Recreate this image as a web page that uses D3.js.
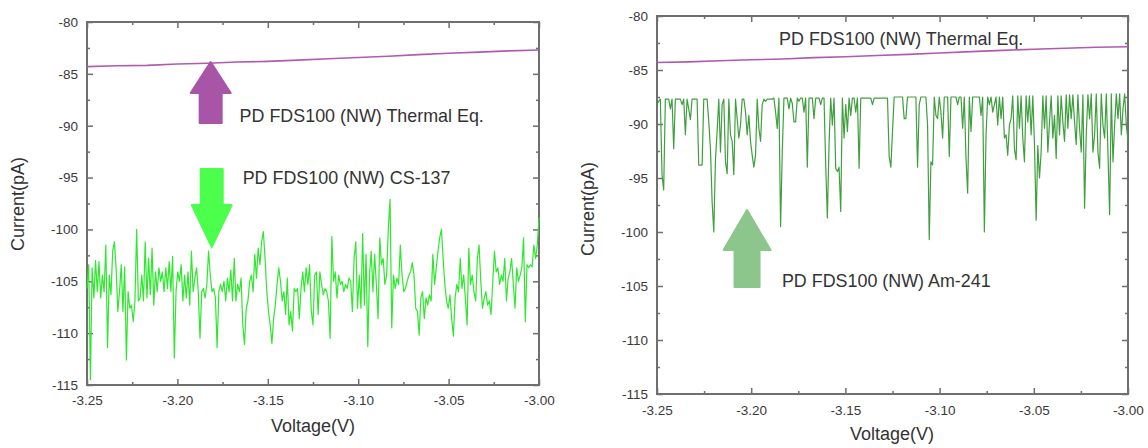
<!DOCTYPE html>
<html><head><meta charset="utf-8">
<script src="https://cdn.jsdelivr.net/npm/d3@7"></script>
<style>
body{margin:0;background:#fff}
svg{display:block}
text{font-family:"Liberation Sans",Arial,sans-serif}
</style>
</head><body>
<svg id="chart" width="1148" height="448"></svg>
<script>
// ---------------- data ----------------
const xDomain = [-3.25, -3.00];
const yDomain = [-115, -80];
const xTicks = [-3.25, -3.20, -3.15, -3.10, -3.05, -3.00];
const xMinor = [-3.225, -3.175, -3.125, -3.075, -3.025];
const yTicks = [-80, -85, -90, -95, -100, -105, -110, -115];
const yMinor = [-82.5, -87.5, -92.5, -97.5, -102.5, -107.5, -112.5];

const xTitle = "Voltage(V)";
const yTitle = "Current(pA)";

// Thermal equilibrium trace (left panel)
const thermalLeft = [-84.3, -84.22, -84.18, -84.05, -83.98, -83.86, -83.8, -83.68, -83.55, -83.43, -83.3, -83.15, -83.02, -82.9, -82.78, -82.7];
// Thermal equilibrium trace (right panel)
const thermalRight = [-84.3, -84.25, -84.15, -84.05, -83.98, -83.85, -83.77, -83.66, -83.55, -83.42, -83.3, -83.18, -83.08, -82.98, -82.9, -82.85];

// CS-137 trace (left panel)
const cs137 = [
-105.7,-103.4,-114.5,-103.7,-106.6,-103.0,-106.0,-103.1,-106.6,-104.4,
-106.0,-101.5,-111.4,-104.4,-106.3,-102.1,-101.2,-103.7,-107.9,-106.0,
-103.4,-107.9,-103.6,-112.6,-106.0,-107.6,-107.3,-108.9,-106.9,-100.0,
-106.9,-106.6,-104.4,-106.9,-101.2,-106.6,-102.8,-106.3,-101.8,-107.3,
-104.1,-106.0,-103.7,-105.0,-104.1,-106.0,-103.7,-105.7,-103.1,-106.0,
-102.6,-112.4,-106.0,-104.1,-105.0,-103.4,-106.9,-104.4,-106.6,-104.1,
-107.3,-102.1,-106.0,-104.7,-103.7,-106.0,-110.5,-106.0,-105.7,-106.6,
-105.3,-102.1,-104.4,-106.0,-105.7,-106.6,-111.4,-106.0,-105.3,-106.0,
-105.0,-106.9,-104.7,-106.0,-103.9,-106.9,-102.8,-106.9,-105.3,-106.0,
-104.7,-109.2,-111.1,-107.6,-106.9,-105.0,-104.4,-106.0,-102.4,-104.7,
-101.8,-103.4,-101.2,-100.2,-102.8,-106.0,-107.9,-109.2,-111.0,-108.6,
-107.3,-105.3,-103.7,-105.0,-106.9,-106.0,-108.2,-104.7,-109.2,-107.9,
-109.8,-105.7,-106.0,-105.7,-108.6,-105.7,-104.1,-106.0,-103.7,-105.3,
-103.4,
-107.9,-109.2,-104.4,-104.1,-108.2,-104.1,-105.3,-106.3,-105.7,-106.0,
-106.9,-110.5,-100.7,-105.0,-104.1,-106.6,-104.4,-105.3,-105.0,-106.0,
-105.3,-105.7,-104.7,-105.0,-107.9,-102.8,-101.2,-107.6,-104.4,-107.6,
-100.4,-107.3,-102.4,-111.3,-104.4,-102.1,-106.0,-102.4,-105.3,-108.6,
-100.8,-103.4,-102.8,-105.3,-104.4,-99.9,-97.1,-109.5,-104.4,-105.7,
-104.7,-105.3,-101.5,-104.4,-106.0,-105.7,-105.0,-104.4,-104.1,-103.2,
-104.4,-107.6,-107.9,-110.2,-106.6,-106.0,-108.6,-106.6,-107.3,-106.3,
-106.9,-102.4,-105.3,-103.7,-102.1,-100.8,-100.0,-102.8,-105.3,-106.9,
-107.6,-106.3,-108.6,-110.3,-106.6,-105.3,-106.0,-102.8,-105.7,-104.4,
-106.6,-109.2,-101.8,-105.3,-104.4,-106.0,-106.9,-102.8,-101.5,-105.0,
-107.6,-106.6,-106.0,-107.3,-106.9,-108.2,-105.0,-102.1,-104.1,-103.7,
-105.3,-104.4,-105.0,-102.8,-106.9,-104.7,-104.1,-102.8,-105.3,-107.6,
-103.7,-105.0,-104.4,-103.7,-100.8,-108.9,-103.4,-103.7,-103.4,-103.6,
-101.5,-102.8,-101.5,-98.9
];

// Am-241 trace (right panel)
const am241 = [
-88.2,-87.9,-87.7,-94.7,-96.1,-87.7,-87.7,-87.7,-88.6,-87.7,
-92.3,-87.7,-87.7,-87.7,-87.7,-88.2,-87.7,-91.0,-87.7,-88.6,
-89.6,-87.7,-87.7,-87.7,-87.7,-93.8,-93.8,-93.8,-87.7,-87.7,
-87.7,-89.8,-92.3,-97.2,-100.0,-93.3,-90.7,-87.7,-92.6,-88.2,
-87.7,-93.5,-94.6,-87.7,-91.0,-91.6,-94.7,-87.7,-89.5,-91.3,
-90.1,-87.7,-87.7,-88.9,-91.0,-89.2,-91.6,-92.9,-94.0,-92.9,
-87.7,-90.4,-91.6,-88.2,-87.7,-87.9,-87.7,-87.7,-87.7,-87.7,
-87.6,-88.9,-90.4,-87.6,-99.5,-92.6,-87.6,-87.6,-87.6,-88.6,
-87.6,-88.1,-89.8,-89.8,-87.6,-87.9,-87.6,-87.6,-88.9,-87.6,
-94.0,-87.6,-87.6,-87.6,-89.5,-87.6,-87.6,-87.6,-88.2,-87.6,
-87.6,-93.8,-98.7,-91.9,-87.6,-90.1,-87.6,-94.1,-94.4,-94.0,
-98.1,-87.6,-91.3,-88.2,-90.7,-87.6,-89.2,-87.6,-87.6,-88.9,
-87.6,-94.1,-87.6,-87.6,-87.6,-87.6,-87.6,-87.6,-87.6,-88.2,
-87.6,-87.6,-87.6,-87.6,-87.6,-87.6,-87.6,-87.6,-87.6,-93.0,
-94.0,-90.7,-87.5,-87.5,-87.5,-87.5,-87.5,-87.5,-89.5,-89.5,
-87.5,-87.5,-87.5,-87.5,-87.5,-87.5,-94.0,-88.2,-87.5,-87.5,
-87.5,-87.5,-90.1,-100.7,-93.5,-93.8,-87.5,-89.2,-89.5,-87.5,
-88.9,-91.3,-87.5,-87.5,-87.5,-93.0,-87.5,-87.5,-87.5,-87.5,
-88.2,-87.5,-87.5,-90.4,-87.5,-93.2,-96.4,-87.5,-90.7,-87.5,
-87.5,-87.5,-87.5,-87.5,-89.2,-87.5,-100.0,-91.0,-87.5,-88.2,
-87.5,-88.9,-88.2,-87.5,-90.1,-87.5,-89.5,-87.5,-91.3,-91.0,
-92.9,-90.1,-89.5,-87.4,-92.3,-93.3,-87.4,-90.4,-87.4,-91.3,
-93.5,-87.4,-89.8,-87.4,-91.0,-87.4,-91.9,-98.9,-92.0,-95.0,
-92.6,-87.4,-90.4,-87.4,-92.6,-89.8,-87.4,-91.3,-89.2,-93.2,
-87.4,-91.0,-87.4,-89.8,-91.6,-87.3,-90.4,-87.3,-89.5,-87.3,
-89.8,-91.9,-87.3,-90.4,-92.6,-87.3,-97.8,-91.0,-87.3,-89.5,
-87.2,-92.6,-91.0,-87.2,-92.6,-94.1,-87.2,-90.1,-91.3,-87.2,
-92.6,-98.4,-87.2,-93.5,-90.1,-87.2,-89.5,-87.2,-91.0,-88.6,
-87.2,-90.1,-91.6
];

// Annotations (data coordinates)
const leftArrows = [
  {dir: "up",   v: -3.1816, tip: -83.86, neck: -86.85, tail: -89.74, color: "#a855a8"},
  {dir: "down", v: -3.181,  tip: -101.7, neck: -97.65, tail: -94.18, color: "#4cff4c"}
];
const rightArrows = [
  {dir: "up", v: -3.2022, tip: -97.96, neck: -101.67, tail: -105.09, color: "#8cc68c"}
];
const leftLabels = [
  {text: "PD FDS100 (NW) Thermal Eq.", v: -3.1656, i: -89.64},
  {text: "PD FDS100 (NW) CS-137",      v: -3.1639, i: -95.62}
];
const rightLabels = [
  {text: "PD FDS100 (NW) Thermal Eq.", v: -3.1852, i: -82.69},
  {text: "PD FDS100 (NW) Am-241",      v: -3.1837, i: -105.09}
];

// ---------------- drawing ----------------
const svg = d3.select("#chart");

function panel(cfg) {
  const {left, right, top, bottom} = cfg;
  const x = d3.scaleLinear().domain(xDomain).range([left, right]);
  const y = d3.scaleLinear().domain(yDomain).range([bottom, top]);
  const g = svg.append("g");
  const axisColor = "#6f6f6f";
  const fmtX = d => d.toFixed(2);
  const fmtY = d => d.toFixed(0);

  // minor ticks
  const minorB = d3.axisBottom(x).tickValues(xMinor).tickSize(-3).tickFormat("").tickSizeOuter(0);
  const minorT = d3.axisTop(x).tickValues(xMinor).tickSize(-3).tickFormat("").tickSizeOuter(0);
  const minorL = d3.axisLeft(y).tickValues(yMinor).tickSize(-3).tickFormat("").tickSizeOuter(0);
  const minorR = d3.axisRight(y).tickValues(yMinor).tickSize(-3).tickFormat("").tickSizeOuter(0);
  // major ticks
  const majB = d3.axisBottom(x).tickValues(xTicks).tickSize(-6).tickPadding(cfg.xPad).tickFormat(fmtX).tickSizeOuter(0);
  const majT = d3.axisTop(x).tickValues(xTicks).tickSize(-6).tickFormat("").tickSizeOuter(0);
  const majL = d3.axisLeft(y).tickValues(yTicks).tickSize(-6).tickPadding(9).tickFormat(fmtY).tickSizeOuter(0);
  const majR = d3.axisRight(y).tickValues(yTicks).tickSize(-6).tickFormat("").tickSizeOuter(0);

  const place = [
    [minorB, `translate(0,${bottom})`], [majB, `translate(0,${bottom})`],
    [minorT, `translate(0,${top})`], [majT, `translate(0,${top})`],
    [minorL, `translate(${left},0)`], [majL, `translate(${left},0)`],
    [minorR, `translate(${right},0)`], [majR, `translate(${right},0)`]
  ];
  place.forEach(([ax, tr]) => {
    const a = g.append("g").attr("transform", tr).call(ax);
    a.select(".domain").remove();
    a.selectAll("line").attr("stroke", axisColor).attr("stroke-width", 1.5);
    a.selectAll("text").attr("fill", "#3a3a3a").style("font-size", "13.5px")
      .style("font-family", '"Liberation Sans",Arial,sans-serif');
  });

  // frame
  g.append("rect").attr("x", left).attr("y", top)
    .attr("width", right - left).attr("height", bottom - top)
    .attr("fill", "none").attr("stroke", axisColor).attr("stroke-width", 2);

  // axis titles
  g.append("text").attr("x", cfg.xTitleX).attr("y", cfg.xTitleY)
    .attr("text-anchor", "middle").attr("fill", "#333").style("font-size", "18px").text(xTitle);
  g.append("text").attr("transform", `translate(${cfg.yTitleX},${cfg.yTitleY}) rotate(-90)`)
    .attr("text-anchor", "middle").attr("fill", "#333").style("font-size", "18px").text(yTitle);

  // traces
  const idxScale = (n) => d3.scaleLinear().domain([0, n - 1]).range(xDomain);
  const drawTrace = (vals, color, width) => {
    const vi = idxScale(vals.length);
    const line = d3.line().x((d, i) => x(vi(i))).y(d => y(d));
    g.append("path").datum(vals).attr("d", line).attr("fill", "none")
      .attr("stroke", color).attr("stroke-width", width).attr("stroke-linejoin", "round");
  };
  drawTrace(cfg.thermal, "#b05ab0", 1.6);
  drawTrace(cfg.noise, cfg.noiseColor, cfg.noiseWidth);

  // arrows
  cfg.arrows.forEach(a => {
    const cx = x(a.v), ty = y(a.tip), ny = y(a.neck), by = y(a.tail);
    const hw = cfg.headHalf, sw = cfg.shaftHalf;
    const pts = [[cx, ty], [cx + hw, ny], [cx + sw, ny], [cx + sw, by], [cx - sw, by], [cx - sw, ny], [cx - hw, ny]];
    g.append("polygon").attr("points", pts.map(p => p.join(",")).join(" "))
      .attr("fill", a.color).attr("stroke", a.color).attr("stroke-width", 2).attr("stroke-linejoin", "round");
  });

  // labels
  cfg.labels.forEach(l => {
    g.append("text").attr("x", x(l.v)).attr("y", y(l.i)).attr("fill", "#333")
      .style("font-size", "17.9px").text(l.text);
  });
}

panel({
  left: 87, right: 539, top: 22, bottom: 385, xPad: 10,
  xTitleX: 313, xTitleY: 432, yTitleX: 24, yTitleY: 204,
  thermal: thermalLeft, noise: cs137, noiseColor: "#2ee82e", noiseWidth: 1.2,
  arrows: leftArrows, headHalf: 20, shaftHalf: 11, labels: leftLabels
});
panel({
  left: 657, right: 1128, top: 16, bottom: 394, xPad: 11,
  xTitleX: 892, xTitleY: 440, yTitleX: 594, yTitleY: 209,
  thermal: thermalRight, noise: am241, noiseColor: "#3f9f3f", noiseWidth: 1.2,
  arrows: rightArrows, headHalf: 23.5, shaftHalf: 12.5, labels: rightLabels
});
</script>
</body></html>
